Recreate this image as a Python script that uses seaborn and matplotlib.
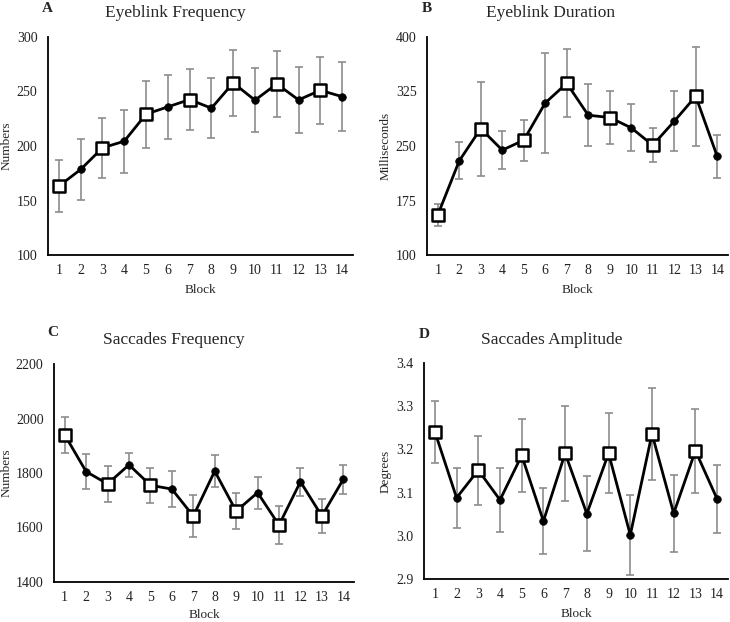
import matplotlib
matplotlib.use("Agg")
import matplotlib.pyplot as plt
import seaborn as sns
import pandas as pd
import numpy as np

blocks = list(range(1, 15))

freq_mean = [163.2, 178.5, 198.3, 204.4, 229.2, 235.9, 242.6, 234.7, 257.9, 242.0, 257.0, 242.3, 251.1, 245.3]
freq_err = [24.2, 28.2, 27.5, 28.8, 30.7, 29.6, 27.8, 27.8, 30.2, 29.6, 30.5, 30.3, 30.8, 31.6]

dur_mean = [155.0, 229.6, 274.0, 244.3, 258.0, 309.3, 336.3, 292.4, 289.2, 275.0, 251.1, 284.1, 318.5, 235.6]
dur_err = [15.6, 25.6, 64.6, 26.1, 28.0, 68.7, 46.7, 42.4, 36.0, 32.5, 23.8, 41.5, 68.3, 29.8]

sacf_mean = [1940, 1805, 1760, 1830, 1755, 1741, 1642, 1807, 1660, 1728, 1609, 1768, 1642, 1777]
sacf_err = [65, 64, 65, 45, 64, 66, 78, 60, 66, 59, 70, 51, 63, 54]

amp_mean = [3.241, 3.088, 3.152, 3.083, 3.186, 3.034, 3.191, 3.051, 3.191, 3.002, 3.236, 3.052, 3.197, 3.085]
amp_err = [0.072, 0.069, 0.080, 0.075, 0.085, 0.077, 0.110, 0.087, 0.093, 0.093, 0.107, 0.089, 0.097, 0.078]

panels = [
    dict(letter="A", title="Eyeblink Frequency", ylabel="Numbers", mean=freq_mean, err=freq_err,
         yticks=[100, 150, 200, 250, 300], fmt="{:.0f}"),
    dict(letter="B", title="Eyeblink Duration", ylabel="Milliseconds", mean=dur_mean, err=dur_err,
         yticks=[100, 175, 250, 325, 400], fmt="{:.0f}"),
    dict(letter="C", title="Saccades Frequency", ylabel="Numbers", mean=sacf_mean, err=sacf_err,
         yticks=[1400, 1600, 1800, 2000, 2200], fmt="{:.0f}"),
    dict(letter="D", title="Saccades Amplitude", ylabel="Degrees", mean=amp_mean, err=amp_err,
         yticks=[2.9, 3.0, 3.1, 3.2, 3.3, 3.4], fmt="{:.1f}"),
]

sns.set_theme(style="white")
plt.rcParams['font.family'] = ['Liberation Serif', 'DejaVu Serif']

W, H = 730, 622
fig = plt.figure(figsize=(W / 100, H / 100), dpi=100)

# axes boxes in pixels: left, right, top, bottom
boxes = [(48, 353, 37, 255), (427, 728, 37, 255), (54, 354, 364, 582), (424, 728, 363, 579)]
title_pos = [(175, 13), (551, 13), (174, 340), (552, 340)]
letter_pos = [(47, 8), (427, 8), (53, 333), (424, 335)]
ylab_x = [7, 386, 7, 386]
xlab_y = [290, 290, 615, 614]

for p, (l, r, t, b), tp, lp, yx, xy in zip(panels, boxes, title_pos, letter_pos, ylab_x, xlab_y):
    ax = fig.add_axes([l / W, 1 - b / H, (r - l) / W, (b - t) / H])
    df = pd.DataFrame({"Block": blocks, "Value": p["mean"], "Err": p["err"]})
    df["kind"] = np.where(df["Block"] % 2 == 1, "odd", "even")
    ax.errorbar(df["Block"], df["Value"], yerr=df["Err"], fmt="none", ecolor="#8c8c8c",
                elinewidth=1.2, capsize=3, capthick=1.2, zorder=1)
    sns.lineplot(data=df, x="Block", y="Value", color="black", linewidth=2, ax=ax, zorder=2)
    odd = df[df["kind"] == "odd"]
    even = df[df["kind"] == "even"]
    sns.scatterplot(data=odd, x="Block", y="Value", marker="s", s=80, color="white",
                    edgecolor="black", linewidth=1.8, ax=ax, zorder=3)
    sns.scatterplot(data=even, x="Block", y="Value", marker="o", s=30, color="black",
                    edgecolor="black", linewidth=0.5, ax=ax, zorder=3)
    ax.set_xlim(0.5, 14.5)
    yt = p["yticks"]
    ax.set_ylim(yt[0], yt[-1])
    ax.set_yticks(yt)
    ax.set_yticklabels([p["fmt"].format(v) for v in yt])
    ax.set_xticks(blocks)
    ax.set_xticklabels([str(v) for v in blocks])
    ax.tick_params(axis="both", length=0, labelsize=10, colors="#222222")
    ax.tick_params(axis="y", pad=7.5)
    ax.tick_params(axis="x", pad=6.5)
    ax.set_xlabel("")
    ax.set_ylabel("")
    for s in ["top", "right"]:
        ax.spines[s].set_visible(False)
    for s in ["left", "bottom"]:
        ax.spines[s].set_color("black")
        ax.spines[s].set_linewidth(1.3)
    fig.text(tp[0] / W, 1 - tp[1] / H, p["title"], ha="center", va="center", fontsize=12.5)
    fig.text(lp[0] / W, 1 - lp[1] / H, p["letter"], ha="center", va="center", fontsize=11,
             fontweight="bold")
    fig.text(yx / W, 1 - ((t + b) / 2) / H, p["ylabel"], ha="center", va="center",
             rotation=90, fontsize=9.5)
    fig.text(((l + r) / 2) / W, 1 - xy / H, "Block", ha="center", va="center", fontsize=9.5)

fig.savefig("out.png", dpi=100, facecolor="white")
